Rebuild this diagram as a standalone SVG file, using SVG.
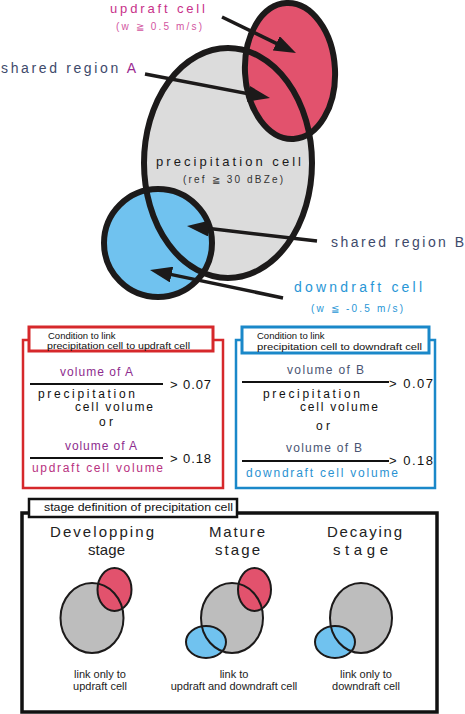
<svg xmlns="http://www.w3.org/2000/svg" width="465" height="714" viewBox="0 0 465 714">
<defs>
<style>
text{font-family:"Liberation Sans",Arial,sans-serif;}
.big{stroke:#1c1a1a;stroke-width:6;fill:none}
.sm{stroke:#1c1a1a;stroke-width:2;fill:none}
.gray{fill:#dcdcdc}
.gray2{fill:#bdbdbd}
.red{fill:#e2526d}
.blue{fill:#70c2ef}
.arrow{stroke:#1c1a1a;stroke-width:3.5;fill:none;marker-end:url(#ah)}
.lbl{font-size:9.5px;fill:#111}
.fr{stroke:#111;stroke-width:2}
.st{font-size:15px;fill:#222}
</style>
<marker id="ah" markerUnits="userSpaceOnUse" markerWidth="22" markerHeight="16" refX="12" refY="8" orient="auto" viewBox="0 0 22 16">
<path d="M0,0 L22,8 L0,16 z" fill="#1c1a1a"/>
</marker>
</defs>
<rect width="465" height="714" fill="#fff"/>

<g id="cells">
<ellipse class="gray" cx="228" cy="163" rx="84" ry="115"/>
<ellipse class="red" cx="290" cy="71" rx="45" ry="68" transform="rotate(-3 290 71)"/>
<circle class="blue" cx="158" cy="243" r="54"/>
<ellipse class="big" cx="228" cy="163" rx="84" ry="115"/>
<ellipse class="big" cx="290" cy="71" rx="45" ry="68" transform="rotate(-3 290 71)"/>
<circle class="big" cx="158" cy="243" r="54"/>
</g>

<g id="connectors">
<line class="arrow" x1="222" y1="17" x2="287" y2="48.6"/>
<line class="arrow" x1="145" y1="74" x2="260.2" y2="96.1"/>
<line class="arrow" x1="317" y1="241" x2="196.9" y2="227.1"/>
<line class="arrow" x1="283" y1="298" x2="159.8" y2="272.1"/>
</g>

<g id="labels-top">
<text x="110" y="13" font-size="13" fill="#c8318a" textLength="95" lengthAdjust="spacing">updraft cell</text>
<text x="116" y="30" font-size="10" fill="#d2559f" textLength="86" lengthAdjust="spacing">(w ≧ 0.5 m/s)</text>
<text x="1" y="73" font-size="14" fill="#3e4a6b" textLength="135" lengthAdjust="spacing">shared region <tspan fill="#9b2a90">A</tspan></text>
<text x="156" y="166" font-size="13" fill="#1a1a1a" textLength="145" lengthAdjust="spacing">precipitation cell</text>
<text x="183" y="183" font-size="10" fill="#333" textLength="100" lengthAdjust="spacing">(ref ≧ 30 dBZe)</text>
<text x="331" y="247" font-size="14" fill="#3e4a6b" textLength="133" lengthAdjust="spacing">shared region B</text>
<text x="294" y="292" font-size="14" fill="#2896d6" textLength="128" lengthAdjust="spacing">downdraft cell</text>
<text x="311" y="312" font-size="10" fill="#2896d6" textLength="92" lengthAdjust="spacing">(w ≦ -0.5 m/s)</text>
</g>

<g id="cond-updraft">
<rect x="23" y="340" width="200" height="148" fill="none" stroke="#d6282b" stroke-width="2.5"/>
<rect x="29" y="327" width="184" height="24" fill="#fff" stroke="#d6282b" stroke-width="3"/>
<text class="lbl" x="48" y="338.5">Condition to link</text>
<text class="lbl" x="47" y="349" textLength="143" lengthAdjust="spacingAndGlyphs">precipitation cell to updraft cell</text>
<text x="60" y="376" font-size="12" fill="#8e2c8e" textLength="73" lengthAdjust="spacing">volume of A</text>
<line class="fr" x1="30" y1="384" x2="163" y2="384"/>
<text x="170" y="389" font-size="13" fill="#111" textLength="41" lengthAdjust="spacing">&gt; 0.07</text>
<text x="38" y="398" font-size="12" fill="#111" textLength="97" lengthAdjust="spacing">precipitation</text>
<text x="75" y="411" font-size="12" fill="#111" textLength="78" lengthAdjust="spacing">cell volume</text>
<text x="99" y="426" font-size="12" fill="#111" textLength="14" lengthAdjust="spacing">or</text>
<text x="65" y="450" font-size="12" fill="#8e2c8e" textLength="72" lengthAdjust="spacing">volume of A</text>
<line class="fr" x1="30" y1="458" x2="163" y2="458"/>
<text x="170" y="463" font-size="13" fill="#111" textLength="41" lengthAdjust="spacing">&gt; 0.18</text>
<text x="32" y="472" font-size="12" fill="#b8317f" textLength="131" lengthAdjust="spacing">updraft cell volume</text>
</g>

<g id="cond-downdraft">
<rect x="236" y="340" width="199" height="148" fill="none" stroke="#1a88c9" stroke-width="2.5"/>
<rect x="242" y="327" width="187" height="26" fill="#fff" stroke="#1a88c9" stroke-width="3"/>
<text class="lbl" x="257" y="339">Condition to link</text>
<text class="lbl" x="257" y="350" textLength="165" lengthAdjust="spacingAndGlyphs">precipitation cell to downdraft cell</text>
<text x="287" y="374" font-size="12" fill="#4a5573" textLength="77" lengthAdjust="spacing">volume of B</text>
<line class="fr" x1="242" y1="382" x2="389" y2="382"/>
<text x="389" y="388" font-size="13" fill="#111" textLength="44" lengthAdjust="spacing">&gt; 0.07</text>
<text x="263" y="398" font-size="12" fill="#111" textLength="97" lengthAdjust="spacing">precipitation</text>
<text x="300" y="411" font-size="12" fill="#111" textLength="78" lengthAdjust="spacing">cell volume</text>
<text x="316" y="430" font-size="12" fill="#111" textLength="14" lengthAdjust="spacing">or</text>
<text x="286" y="452" font-size="12" fill="#4a5573" textLength="76" lengthAdjust="spacing">volume of B</text>
<line class="fr" x1="242" y1="461" x2="389" y2="461"/>
<text x="389" y="465" font-size="13" fill="#111" textLength="44" lengthAdjust="spacing">&gt; 0.18</text>
<text x="246" y="477" font-size="12" fill="#2a92d2" textLength="152" lengthAdjust="spacing">downdraft cell volume</text>
</g>

<g id="stages">
<rect x="22" y="513" width="415" height="199" fill="none" stroke="#111" stroke-width="3.5"/>
<rect x="29" y="499" width="208" height="18" fill="#fff" stroke="#111" stroke-width="2.5"/>
<text x="44" y="511" font-size="11" fill="#111" textLength="189" lengthAdjust="spacingAndGlyphs">stage definition of precipitation cell</text>
</g>

<g id="stage-developing">
<text class="st" x="50" y="537" textLength="104" lengthAdjust="spacing">Developping</text>
<text class="st" x="88" y="555" textLength="37" lengthAdjust="spacing">stage</text>
<ellipse class="gray2" cx="92" cy="618" rx="31.5" ry="35"/>
<ellipse class="red" cx="114.5" cy="589.5" rx="17" ry="21.5"/>
<ellipse class="sm" cx="92" cy="618" rx="31.5" ry="35"/>
<ellipse class="sm" cx="114.5" cy="589.5" rx="17" ry="21.5"/>
<text x="100" y="678" font-size="11" fill="#222" text-anchor="middle">link only to</text>
<text x="100" y="690" font-size="11" fill="#222" text-anchor="middle">updraft cell</text>
</g>

<g id="stage-mature">
<text class="st" x="209" y="537" textLength="56" lengthAdjust="spacing">Mature</text>
<text class="st" x="215" y="555" textLength="45" lengthAdjust="spacing">stage</text>
<ellipse class="gray2" cx="232" cy="618" rx="31" ry="35"/>
<ellipse class="red" cx="254.5" cy="589.5" rx="16.5" ry="21.5"/>
<ellipse class="blue" cx="206" cy="642" rx="20" ry="16"/>
<ellipse class="sm" cx="232" cy="618" rx="31" ry="35"/>
<ellipse class="sm" cx="254.5" cy="589.5" rx="16.5" ry="21.5"/>
<ellipse class="sm" cx="206" cy="642" rx="20" ry="16"/>
<text x="234" y="678" font-size="11" fill="#222" text-anchor="middle">link to</text>
<text x="234" y="690" font-size="11" fill="#222" text-anchor="middle">updraft and downdraft cell</text>
</g>

<g id="stage-decaying">
<text class="st" x="327" y="537" textLength="75" lengthAdjust="spacing">Decaying</text>
<text class="st" x="333" y="555" textLength="55" lengthAdjust="spacing">stage</text>
<ellipse class="gray2" cx="361" cy="618" rx="31" ry="35"/>
<ellipse class="blue" cx="335" cy="642" rx="20" ry="16"/>
<ellipse class="sm" cx="361" cy="618" rx="31" ry="35"/>
<ellipse class="sm" cx="335" cy="642" rx="20" ry="16"/>
<text x="366" y="678" font-size="11" fill="#222" text-anchor="middle">link only to</text>
<text x="366" y="690" font-size="11" fill="#222" text-anchor="middle">downdraft cell</text>
</g>
</svg>
